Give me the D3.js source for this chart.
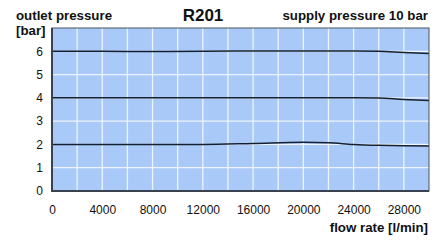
<!DOCTYPE html>
<html>
<head>
<meta charset="utf-8">
<script src="https://cdn.jsdelivr.net/npm/d3@7"></script>
<style>
  body { margin:0; background:#fff; }
  text { font-family: "Liberation Sans", Arial, sans-serif; fill:#111; }
</style>
</head>
<body>
<svg id="chart" width="434" height="248"></svg>
<script>
  // data
  var flow   = [0, 4000, 8000, 12000, 16000, 20000, 22000, 24000, 26000, 28000, 30000];
  var p6     = [6, 6, 5.99, 6, 6.01, 6.01, 6.01, 6.01, 6.0, 5.95, 5.91];
  var p4     = [4, 4, 4, 4, 4, 4, 4, 4, 3.99, 3.93, 3.89];
  var p2     = [2, 2, 2, 2, 2.04, 2.09, 2.07, 2.0, 1.96, 1.94, 1.93];
  var xTicks = [0, 4000, 8000, 12000, 16000, 20000, 24000, 28000];
  var yTicks = [0, 1, 2, 3, 4, 5, 6];

  var chart  = d3.select("#chart");
  var margin = {top: 28, bottom: 57, left: 52, right: 5};
  var svgWidth = 434, svgHeight = 248;
  var graphWidth  = svgWidth - margin.left - margin.right;
  var graphHeight = svgHeight - margin.top - margin.bottom;

  var x = d3.scaleLinear().domain([0, 30000]).range([margin.left, margin.left + graphWidth]);
  var y = d3.scaleLinear().domain([0, 7]).range([margin.top + graphHeight, margin.top]);

  // background
  chart.append("rect").attr("x", x(0)).attr("y", y(7))
       .attr("width", x(30000) - x(0)).attr("height", y(0) - y(7))
       .style("fill", "#a9c9f8");

  // grid
  var g = chart.append("g");
  g.selectAll("line.v").data(d3.range(2000, 30000, 2000)).enter().append("line")
   .attr("x1", d => x(d)).attr("x2", d => x(d)).attr("y1", y(0)).attr("y2", y(7))
   .style("stroke", "#eef4ff").style("stroke-width", 1.3);
  g.selectAll("line.h").data(d3.range(1, 7)).enter().append("line")
   .attr("x1", x(0)).attr("x2", x(30000)).attr("y1", d => y(d)).attr("y2", d => y(d))
   .style("stroke", "#eef4ff").style("stroke-width", 1.3);

  // curves
  var line = d3.line().x(d => x(d[0])).y(d => y(d[1])).curve(d3.curveMonotoneX);
  [p6, p4, p2].forEach(function(s) {
    chart.append("path").datum(flow.map((f, i) => [f, s[i]]))
         .attr("d", line).style("fill", "none")
         .style("stroke", "#15202e").style("stroke-width", 1.5);
  });

  // frame
  chart.append("rect").attr("x", x(0)).attr("y", y(7))
       .attr("width", x(30000) - x(0)).attr("height", y(0) - y(7))
       .style("fill", "none").style("stroke", "#4a5260").style("stroke-width", 1);
  chart.append("line").attr("x1", x(0)).attr("x2", x(0)).attr("y1", y(7)).attr("y2", y(0))
       .style("stroke", "#3a4250").style("stroke-width", 2);
  chart.append("line").attr("x1", x(0) - 1).attr("x2", x(30000)).attr("y1", y(0)).attr("y2", y(0))
       .style("stroke", "#3a4250").style("stroke-width", 2);

  // axes (labels only)
  var xAxis = chart.append("g").attr("transform", "translate(0," + (y(0) + 5) + ")")
       .call(d3.axisBottom(x).tickValues(xTicks).tickFormat(d3.format("d")).tickSize(0).tickPadding(9));
  var yAxis = chart.append("g").attr("transform", "translate(" + (x(0) - 6) + ",0)")
       .call(d3.axisLeft(y).tickValues(yTicks).tickFormat(d3.format("d")).tickSize(0).tickPadding(3));
  [xAxis, yAxis].forEach(function(a) {
    a.select(".domain").remove();
    a.selectAll("text").style("font-family", "Liberation Sans, Arial, sans-serif")
     .style("font-size", "12px").style("fill", "#111");
  });

  // titles
  chart.append("text").attr("x", 16).attr("y", 20).text("outlet pressure")
       .style("font-size", "13.3px").style("font-weight", "bold");
  chart.append("text").attr("x", 16).attr("y", 35).text("[bar]")
       .style("font-size", "13.3px").style("font-weight", "bold");
  chart.append("text").attr("x", 203).attr("y", 21).text("R201")
       .style("font-size", "17px").style("font-weight", "bold").style("text-anchor", "middle");
  chart.append("text").attr("x", 428).attr("y", 20).text("supply pressure 10 bar")
       .style("font-size", "13.3px").style("font-weight", "bold").style("text-anchor", "end");
  chart.append("text").attr("x", 428).attr("y", 232).text("flow rate [l/min]")
       .style("font-size", "13.3px").style("font-weight", "bold").style("text-anchor", "end");
</script>
</body>
</html>
